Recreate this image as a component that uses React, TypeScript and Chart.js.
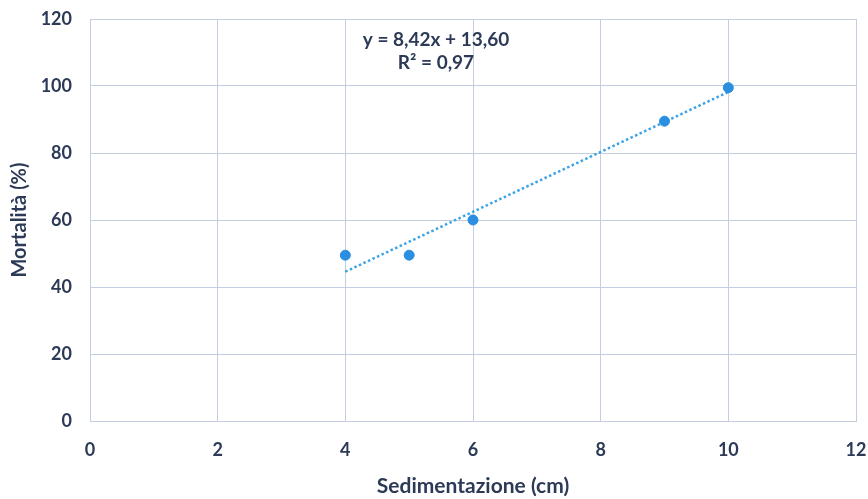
import React, { useEffect, useRef } from "react";
import { Chart, registerables } from "chart.js";

Chart.register(...registerables);

const sedimentazione = [4, 5, 6, 9, 10];
const mortalita = [49.5, 49.5, 60, 89.5, 99.5];
const equationLines = ["y = 8,42x + 13,60", "R² = 0,97"];
const xTitle = "Sedimentazione (cm)";
const yTitle = "Mortalità (%)";

const TEXT = "#2c3a57";
const GRID = "#c3cfe0";
const FONT = "Lato, 'Open Sans', sans-serif";

function linearFit(xs: number[], ys: number[]) {
  const n = xs.length;
  const mx = xs.reduce((a, b) => a + b, 0) / n;
  const my = ys.reduce((a, b) => a + b, 0) / n;
  let sxy = 0;
  let sxx = 0;
  for (let i = 0; i < n; i++) {
    sxy += (xs[i] - mx) * (ys[i] - my);
    sxx += (xs[i] - mx) * (xs[i] - mx);
  }
  const m = sxy / sxx;
  return { m, b: my - m * mx };
}

export default function App() {
  const ref = useRef<HTMLCanvasElement | null>(null);

  useEffect(() => {
    if (!ref.current) return;
    const fit = linearFit(sedimentazione, mortalita);
    const xMin = Math.min(...sedimentazione);
    const xMax = Math.max(...sedimentazione);
    const trend = [
      { x: xMin, y: fit.m * xMin + fit.b },
      { x: xMax, y: fit.m * xMax + fit.b },
    ];

    const eqPlugin = {
      id: "eq",
      afterDatasetsDraw(chart: any) {
        const ctx = chart.ctx;
        const xs = chart.scales.x;
        const ys = chart.scales.y;
        ctx.save();
        ctx.fillStyle = TEXT;
        ctx.font = `bold 19px ${FONT}`;
        ctx.textAlign = "center";
        ctx.textBaseline = "middle";
        const cx = xs.getPixelForValue(5.42);
        ctx.fillText(equationLines[0], cx, ys.getPixelForValue(113.8));
        ctx.fillText(equationLines[1], cx, ys.getPixelForValue(106.9));
        ctx.restore();
      },
    };

    const chart = new Chart(ref.current, {
      type: "scatter",
      data: {
        datasets: [
          {
            label: "Trend",
            data: trend,
            showLine: true,
            borderColor: "#3ba3e6",
            borderWidth: 2.5,
            borderDash: [2.5, 2.5],
            pointRadius: 0,
            fill: false,
            order: 2,
          },
          {
            label: "Mortalità",
            data: sedimentazione.map((x, i) => ({ x, y: mortalita[i] })),
            backgroundColor: "#2a8fe0",
            borderColor: "#2a8fe0",
            pointRadius: 5,
            order: 1,
          },
        ],
      },
      options: {
        animation: false,
        responsive: false,
        layout: { padding: { top: 19, right: 12, left: 0, bottom: 0 } },
        plugins: { legend: { display: false }, tooltip: { enabled: false } },
        scales: {
          x: {
            type: "linear",
            min: 0,
            max: 12,
            ticks: {
              stepSize: 2,
              color: TEXT,
              font: { family: FONT, size: 18, weight: "bold" },
              padding: 18,
            },
            grid: { color: GRID, lineWidth: 1, drawTicks: false },
            border: { color: GRID },
            title: {
              display: true,
              text: xTitle,
              color: TEXT,
              font: { family: FONT, size: 21, weight: "bold" },
              padding: { top: 6, bottom: 0 },
            },
            afterFit(scale: any) {
              scale.height = 78;
              scale.paddingLeft = 0;
              scale.paddingRight = 0;
            },
          },
          y: {
            min: 0,
            max: 120,
            ticks: {
              stepSize: 20,
              color: TEXT,
              font: { family: FONT, size: 18, weight: "bold" },
              padding: 18,
            },
            grid: { color: GRID, lineWidth: 1, drawTicks: false },
            border: { color: GRID },
            title: {
              display: true,
              text: yTitle,
              color: TEXT,
              font: { family: FONT, size: 20, weight: "bold" },
              padding: { top: 8, bottom: 6 },
            },
            afterFit(scale: any) {
              scale.width = 90;
              scale.paddingTop = 0;
              scale.paddingBottom = 0;
            },
          },
        },
      },
      plugins: [eqPlugin],
    });
    return () => chart.destroy();
  }, []);

  return (
    <div style={{ position: "fixed", left: 0, top: 0, width: 868, height: 499, background: "#fff" }}>
      <canvas ref={ref} width={868} height={499} style={{ width: 868, height: 499 }} />
    </div>
  );
}
